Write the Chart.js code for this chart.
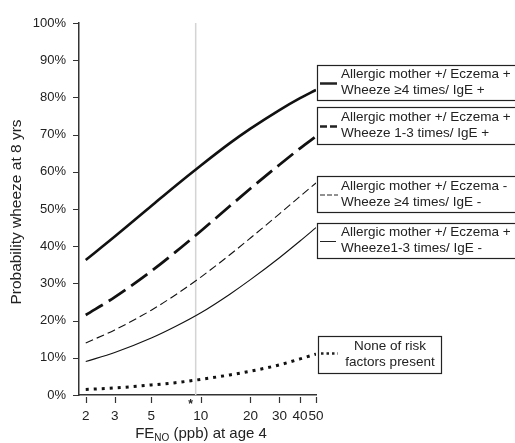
<!DOCTYPE html>
<html>
<head>
<meta charset="utf-8">
<script src="https://cdn.jsdelivr.net/npm/chart.js@4"></script>
<style>
  html, body { margin: 0; padding: 0; background: #fff; }
  #wrap { width: 515px; height: 443px; }
</style>
</head>
<body>
<div id="wrap"><canvas id="chart"></canvas></div>
<script>
// FeNO (ppb) at age 4 -- x positions
const feno = [2, 3, 5, 7, 10, 15, 20, 30, 40, 50];

// probability of wheeze at 8 yrs (%)
const mumEczWheeze4IgE   = [36.3, 42.6, 50.8, 56.2, 61.7, 67.7, 71.6, 76.6, 79.8, 82.0];
const mumEczWheeze13IgE  = [21.5, 26.3, 33.3, 38.4, 44.1, 50.8, 55.5, 61.9, 66.3, 69.5];
const mumWheeze4NoIgE    = [14.0, 17.5, 22.8, 26.9, 31.7, 37.7, 42.2, 48.7, 53.4, 57.0];
const mumEczWheeze13NoIgE = [9.0, 11.4, 15.3, 18.4, 22.1, 27.1, 31.0, 36.9, 41.4, 45.0];
const noRiskFactors      = [1.5, 1.9, 2.7, 3.3, 4.2, 5.4, 6.4, 8.1, 9.7, 11.0];

const xTicks = [2, 3, 5, 10, 20, 30, 40, 50];
const yTicks = [0, 10, 20, 30, 40, 50, 60, 70, 80, 90, 100];
const cutoff = 9.3; // grey reference line

const legendText = [
  ['Allergic mother +/ Eczema +', 'Wheeze \u22654 times/ IgE +'],
  ['Allergic mother +/ Eczema +', 'Wheeze 1-3 times/ IgE +'],
  ['Allergic mother +/ Eczema -', 'Wheeze \u22654 times/ IgE -'],
  ['Allergic mother +/ Eczema +', 'Wheeze1-3 times/ IgE -'],
  ['None of risk', 'factors present']
];

const FONT = '"Liberation Sans", Arial, sans-serif';
const INK = '#111';

function pts(arr) { return feno.map((x, i) => ({ x: x, y: arr[i] })); }

function ds(arr, width, dash) {
  return {
    data: pts(arr), borderColor: INK, borderWidth: width, borderDash: dash,
    pointRadius: 0, fill: false, tension: 0.4, cubicInterpolationMode: 'monotone',
    borderCapStyle: 'butt'
  };
}

// legend boxes, cutoff line, axis titles
const extras = {
  id: 'extras',
  beforeDatasetsDraw(chart) {
    const { ctx, chartArea, scales } = chart;
    const gx = scales.x.getPixelForValue(cutoff);
    ctx.save();
    ctx.strokeStyle = '#d4d4d4';
    ctx.lineWidth = 1.5;
    ctx.beginPath();
    ctx.moveTo(gx, chartArea.top);
    ctx.lineTo(gx, chartArea.bottom);
    ctx.stroke();
    ctx.restore();
  },
  afterDraw(chart) {
    const { ctx, chartArea, scales } = chart;
    ctx.save();
    ctx.fillStyle = '#222';
    ctx.strokeStyle = '#222';

    // asterisk under the cutoff
    const gx = scales.x.getPixelForValue(cutoff);
    ctx.font = 'bold 12px ' + FONT;
    ctx.textAlign = 'center';
    ctx.textBaseline = 'middle';
    ctx.fillText('*', gx - 5, chartArea.bottom + 10);

    // y title
    ctx.font = '15.5px ' + FONT;
    ctx.save();
    ctx.translate(17, 212);
    ctx.rotate(-Math.PI / 2);
    ctx.fillText('Probability wheeze at 8 yrs', 0, 0);
    ctx.restore();

    // x title with subscript
    const ty = 434;
    const parts = [['FE', 15, 0], ['NO', 10, 4], [' (ppb) at age 4', 15, 0]];
    let total = 0;
    parts.forEach(p => { ctx.font = p[1] + 'px ' + FONT; total += ctx.measureText(p[0]).width; });
    let tx = 201 - total / 2;
    ctx.textAlign = 'left';
    parts.forEach(p => {
      ctx.font = p[1] + 'px ' + FONT;
      ctx.fillText(p[0], tx, ty + p[2]);
      tx += ctx.measureText(p[0]).width;
    });

    // legend boxes
    const boxes = [
      { l: 317, t: 65, w: 200, h: 35, dash: [], lw: 2.5, sample: [320, 337] },
      { l: 317, t: 107, w: 200, h: 37, dash: [7, 3], lw: 2.5, sample: [320, 338] },
      { l: 317, t: 176, w: 200, h: 36, dash: [5, 2], lw: 1, sample: [320, 338] },
      { l: 317, t: 223, w: 200, h: 35, dash: [], lw: 1, sample: [320, 336] },
      { l: 318, t: 336, w: 123, h: 37, dash: [2.5, 3], lw: 2.5, sample: [321, 338] }
    ];
    boxes.forEach((b, i) => {
      ctx.setLineDash([]);
      ctx.lineWidth = 1.2;
      ctx.strokeRect(b.l + 0.5, b.t + 0.5, b.w, b.h);
      ctx.setLineDash(b.dash);
      ctx.lineWidth = b.lw;
      const my = b.t + b.h / 2 + (i === 4 ? -1 : 1);
      ctx.beginPath();
      ctx.moveTo(b.sample[0], my);
      ctx.lineTo(b.sample[1], my);
      ctx.stroke();
      ctx.setLineDash([]);
      ctx.font = '13.5px ' + FONT;
      ctx.textAlign = i === 4 ? 'center' : 'left';
      const tx2 = i === 4 ? 390 : 341;
      ctx.fillText(legendText[i][0], tx2, b.t + b.h / 2 - 8);
      ctx.fillText(legendText[i][1], tx2, b.t + b.h / 2 + 8);
    });
    ctx.restore();
  }
};

new Chart(document.getElementById('chart'), {
  type: 'line',
  data: {
    datasets: [
      ds(mumEczWheeze4IgE, 2.6, []),
      ds(mumEczWheeze13IgE, 2.8, [20, 7]),
      ds(mumWheeze4NoIgE, 1.1, [8, 4]),
      ds(mumEczWheeze13NoIgE, 1.1, []),
      ds(noRiskFactors, 3, [3, 5])
    ]
  },
  options: {
    responsive: true,
    maintainAspectRatio: false,
    animation: false,
    layout: { padding: { top: 23, right: 199, bottom: 0, left: 0 } },
    plugins: { legend: { display: false }, tooltip: { enabled: false } },
    scales: {
      x: {
        type: 'logarithmic',
        min: 1.82,
        max: 50,
        afterBuildTicks(scale) { scale.ticks = xTicks.map(v => ({ value: v })); },
        afterFit(scale) { scale.height = 48; },
        grid: { display: false, drawTicks: false },
        border: { display: true, color: '#333', width: 1.5 },
        ticks: {
          autoSkip: false, maxRotation: 0, padding: 13,
          color: '#222', font: { family: FONT, size: 13.5 },
          callback: v => String(v)
        }
      },
      y: {
        min: 0,
        max: 100,
        afterBuildTicks(scale) { scale.ticks = yTicks.map(v => ({ value: v })); },
        afterFit(scale) { scale.width = 79; },
        grid: { display: false, drawTicks: false },
        border: { display: true, color: '#333', width: 1.5 },
        ticks: {
          padding: 13, color: '#222', font: { family: FONT, size: 13 },
          callback: v => v + '%'
        }
      }
    }
  },
  plugins: [extras, {
    id: 'tickMarks',
    afterDraw(chart) {
      const { ctx, chartArea, scales } = chart;
      ctx.save();
      ctx.strokeStyle = '#333';
      ctx.lineWidth = 1.2;
      ctx.beginPath();
      xTicks.forEach(v => {
        const x = Math.round(scales.x.getPixelForValue(v)) + 0.5;
        ctx.moveTo(x, chartArea.bottom + 2);
        ctx.lineTo(x, chartArea.bottom + 8);
      });
      yTicks.forEach(v => {
        const y = Math.round(scales.y.getPixelForValue(v)) + 0.5;
        ctx.moveTo(chartArea.left - 6, y);
        ctx.lineTo(chartArea.left, y);
      });
      ctx.stroke();
      ctx.restore();
    }
  }]
});
</script>
</body>
</html>
